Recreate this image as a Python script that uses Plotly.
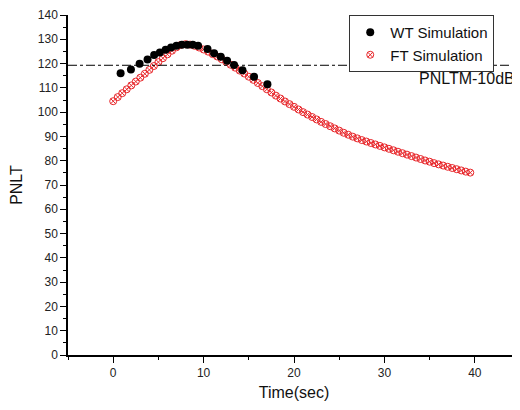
import plotly.graph_objects as go

# WT Simulation (time, PNLT)
wt_time = [0.82, 1.96, 2.92, 3.80, 4.53, 5.16, 5.8, 6.4, 7.0, 7.6, 8.2, 8.8,
           9.39, 10.43, 11.16, 11.9, 12.6, 13.37, 14.3, 15.58, 17.06]
wt_pnlt = [116.0, 117.6, 119.9, 121.7, 123.5, 124.6, 125.7, 126.6, 127.3, 127.7,
           127.8, 127.7, 127.3, 126.0, 124.2, 122.8, 121.2, 119.4, 117.3, 114.6, 111.5]

# FT Simulation
ft_time = [0, 0.5, 1, 1.5, 2, 2.5, 3, 3.5, 4, 4.5, 5, 5.5, 6, 6.5, 7, 7.5, 8, 8.5,
           9, 9.5, 10, 10.5, 11, 11.5, 12, 12.5, 13, 13.5, 14, 14.5, 15, 15.5, 16,
           16.5, 17, 17.5, 18, 18.5, 19, 19.5, 20, 20.5, 21, 21.5, 22, 22.5, 23,
           23.5, 24, 24.5, 25, 25.5, 26, 26.5, 27, 27.5, 28, 28.5, 29, 29.5, 30,
           30.5, 31, 31.5, 32, 32.5, 33, 33.5, 34, 34.5, 35, 35.5, 36, 36.5, 37,
           37.5, 38, 38.5, 39, 39.5]
ft_pnlt = [104.5, 106.2, 107.8, 109.4, 111.0, 112.6, 114.2, 115.8, 117.4, 119.0,
           120.6, 122.2, 123.8, 125.3, 126.7, 127.7, 128.0, 127.8, 127.3, 126.6,
           125.8, 124.9, 123.9, 122.9, 121.8, 120.7, 119.5, 118.3, 117.1, 115.9,
           114.6, 113.3, 112.0, 110.7, 109.4, 108.1, 106.8, 105.6, 104.4, 103.3,
           102.2, 101.1, 100.0, 99.0, 98.0, 97.0, 96.0, 95.1, 94.2, 93.3,
           92.4, 91.5, 90.7, 89.9, 89.2, 88.5, 87.9, 87.3, 86.7, 86.1,
           85.5, 84.9, 84.3, 83.7, 83.1, 82.5, 81.9, 81.3, 80.7, 80.1,
           79.6, 79.0, 78.5, 78.0, 77.5, 77.0, 76.5, 76.0, 75.5, 75.1]

ref_level = 119.3
ref_label = "PNLTM-10dB"

fig = go.Figure()
fig.add_trace(go.Scatter(
    x=ft_time, y=ft_pnlt, mode="markers", name="FT Simulation",
    marker=dict(symbol="circle-x-open", size=7, color="#e8262a", line=dict(width=1))))
fig.add_trace(go.Scatter(
    x=wt_time, y=wt_pnlt, mode="markers", name="WT Simulation",
    marker=dict(symbol="circle", size=8, color="black")))

fig.add_shape(type="line", xref="paper", x0=0, x1=1, yref="y", y0=ref_level, y1=ref_level,
              line=dict(color="black", width=1, dash="dashdot"))
fig.add_annotation(xref="paper", x=0.993, yref="y", y=ref_level, text=ref_label,
                   showarrow=False, xanchor="right", yanchor="top", yshift=-3,
                   font=dict(size=16, color="#111"))

fig.update_layout(
    width=512, height=402,
    margin=dict(l=60, r=0, t=7, b=55),
    paper_bgcolor="white", plot_bgcolor="white",
    font=dict(family="Liberation Sans, Arial, sans-serif", color="#222"),
    showlegend=True,
    legend=dict(x=0.943, y=1.0, xanchor="right", yanchor="top",
                bordercolor="#333", borderwidth=1, bgcolor="white",
                font=dict(size=15, color="#111"), traceorder="reversed",
                itemwidth=30, tracegroupgap=0),
)
fig.update_xaxes(range=[-5, 45], dtick=10, tick0=0, showgrid=False, zeroline=False,
                 showline=True, linecolor="black", linewidth=1.5,
                 ticks="outside", ticklen=6, tickcolor="black",
                 minor=dict(ticks="outside", ticklen=3, dtick=5, tick0=0, tickcolor="black"),
                 tickfont=dict(size=12),
                 title=dict(text="Time(sec)", font=dict(size=16, color="#111"), standoff=8))
fig.update_yaxes(range=[0, 140], dtick=10, showgrid=False, zeroline=False,
                 showline=True, linecolor="black", linewidth=1.5,
                 ticks="outside", ticklen=6, tickcolor="black",
                 minor=dict(ticks="outside", ticklen=3, dtick=5, tickcolor="black"),
                 tickfont=dict(size=12),
                 title=dict(text="PNLT", font=dict(size=16, color="#111"), standoff=14))

fig.write_html("out.html")
